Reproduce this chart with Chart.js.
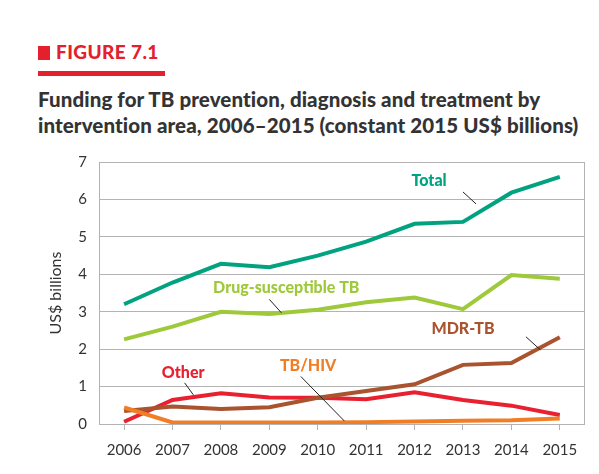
<!DOCTYPE html>
<html>
<head>
<meta charset="utf-8">
<script src="https://cdn.jsdelivr.net/npm/chart.js@4"></script>
<style>
  html, body { margin: 0; padding: 0; background: #fff; }
  #wrap { position: relative; width: 599px; height: 474px; overflow: hidden; }
  #fig { position: absolute; left: 38px; top: 40px; font-family: Lato, sans-serif; font-weight: 900; font-size: 19px; color: #e3202b; letter-spacing: 0.4px; }
  #fig span { display: inline-block; width: 12px; height: 14px; background: #e3202b; margin-right: 6px; vertical-align: -1px; }
  #bar { position: absolute; left: 38px; top: 71px; width: 127px; height: 5px; background: #e3202b; }
  #title { position: absolute; left: 38px; top: 86px; font-family: Lato, sans-serif; font-weight: 900; font-size: 20.5px; line-height: 26px; color: #333; letter-spacing: 0.1px; }
  canvas { position: absolute; left: 0; top: 0; }
</style>
</head>
<body>
<div id="wrap">
  <div id="fig"><span></span>FIGURE 7.1</div>
  <div id="bar"></div>
  <div id="title">Funding for TB prevention, diagnosis and treatment by<br>intervention area, 2006–2015 (constant 2015 US$ billions)</div>
  <canvas id="chart" width="599" height="474"></canvas>
</div>
<script>
// --- adatok ---
const years = ['2006', '2007', '2008', '2009', '2010', '2011', '2012', '2013', '2014', '2015'];
const totalVals = [3.2, 3.78, 4.28, 4.19, 4.5, 4.87, 5.35, 5.4, 6.18, 6.6];
const drugSuscVals = [2.26, 2.6, 3.0, 2.94, 3.05, 3.25, 3.38, 3.07, 3.98, 3.88];
const mdrVals = [0.35, 0.47, 0.4, 0.45, 0.7, 0.88, 1.06, 1.58, 1.63, 2.32];
const otherVals = [0.06, 0.64, 0.82, 0.71, 0.7, 0.66, 0.85, 0.64, 0.49, 0.24];
const tbhivVals = [0.44, 0.04, 0.04, 0.04, 0.04, 0.05, 0.07, 0.09, 0.1, 0.15];
const yTicks = [0, 1, 2, 3, 4, 5, 6, 7];

const colors = {
    total: '#00a27f', drug: '#9dc93b', mdr: '#a9532f', other: '#e8202f', tbhiv: '#f07e26'
};

// címkék + vezetővonalak, adategységben (x index, y érték)
const callouts = [
    { text: 'Total', color: colors.total, at: [6.3, 6.5], line: [[7.0, 6.2], [7.27, 5.88]] },
    { text: 'Drug-susceptible TB', color: colors.drug, at: [3.35, 3.65], line: [[3.0, 3.33], [3.25, 2.97]] },
    { text: 'MDR-TB', color: colors.mdr, at: [7.0, 2.55], line: [[8.3, 2.33], [8.6, 1.98]] },
    { text: 'Other', color: colors.other, at: [1.22, 1.38], line: [[1.25, 1.1], [1.43, 0.78]] },
    { text: 'TB/HIV', color: colors.tbhiv, at: [3.8, 1.55], line: [[3.65, 1.27], [4.55, 0.08]] }
];

const calloutPlugin = {
    id: 'callouts',
    afterDatasetsDraw(chart) {
        const { ctx, scales: { x, y }, chartArea } = chart;
        ctx.save();
        // jobb oldali keret
        ctx.strokeStyle = '#b3b3b3';
        ctx.lineWidth = 1;
        ctx.beginPath();
        ctx.moveTo(chartArea.right + 0.5, chartArea.top);
        ctx.lineTo(chartArea.right + 0.5, chartArea.bottom);
        ctx.stroke();
        const px = v => x.getPixelForValue(v);
        callouts.forEach(c => {
            ctx.strokeStyle = '#222';
            ctx.lineWidth = 1;
            ctx.beginPath();
            ctx.moveTo(px(c.line[0][0]), y.getPixelForValue(c.line[0][1]));
            ctx.lineTo(px(c.line[1][0]), y.getPixelForValue(c.line[1][1]));
            ctx.stroke();
            ctx.fillStyle = c.color;
            ctx.font = '900 16px Lato, sans-serif';
            ctx.textAlign = 'center';
            ctx.textBaseline = 'middle';
            ctx.fillText(c.text, px(c.at[0]), y.getPixelForValue(c.at[1]));
        });
        ctx.restore();
    }
};

const lineDs = (label, data, color) => ({
    label, data, borderColor: color, backgroundColor: color,
    borderWidth: 4, pointRadius: 0, tension: 0, fill: false
});

new Chart(document.getElementById('chart').getContext('2d'), {
    type: 'line',
    data: {
        labels: years,
        datasets: [
            lineDs('TB/HIV', tbhivVals, colors.tbhiv),
            lineDs('MDR-TB', mdrVals, colors.mdr),
            lineDs('Other', otherVals, colors.other),
            lineDs('Drug-susceptible TB', drugSuscVals, colors.drug),
            lineDs('Total', totalVals, colors.total)
        ]
    },
    options: {
        responsive: false, animation: false,
        layout: { padding: { top: 162, right: 15, left: 42, bottom: 4 } },
        scales: {
            x: {
                offset: true,
                grid: { display: true, drawOnChartArea: false, drawTicks: true, tickLength: 6, color: '#b3b3b3', offset: false },
                border: { color: '#b3b3b3' },
                ticks: { color: '#333', font: { family: 'Lato, sans-serif', size: 15 }, padding: 11, maxRotation: 0, autoSkip: false }
            },
            y: {
                min: 0, max: 7,
                afterBuildTicks: axis => { axis.ticks = yTicks.map(v => ({ value: v })); },
                grid: { color: '#b3b3b3', drawTicks: false },
                border: { color: '#b3b3b3' },
                ticks: { color: '#333', font: { family: 'Lato, sans-serif', size: 15 }, padding: 13 },
                title: { display: true, text: 'US$ billions', color: '#333', font: { family: 'Lato, sans-serif', size: 16 }, padding: { bottom: 0 } }
            }
        },
        plugins: { legend: { display: false }, tooltip: { enabled: false } }
    },
    plugins: [calloutPlugin]
});
</script>
</body>
</html>
